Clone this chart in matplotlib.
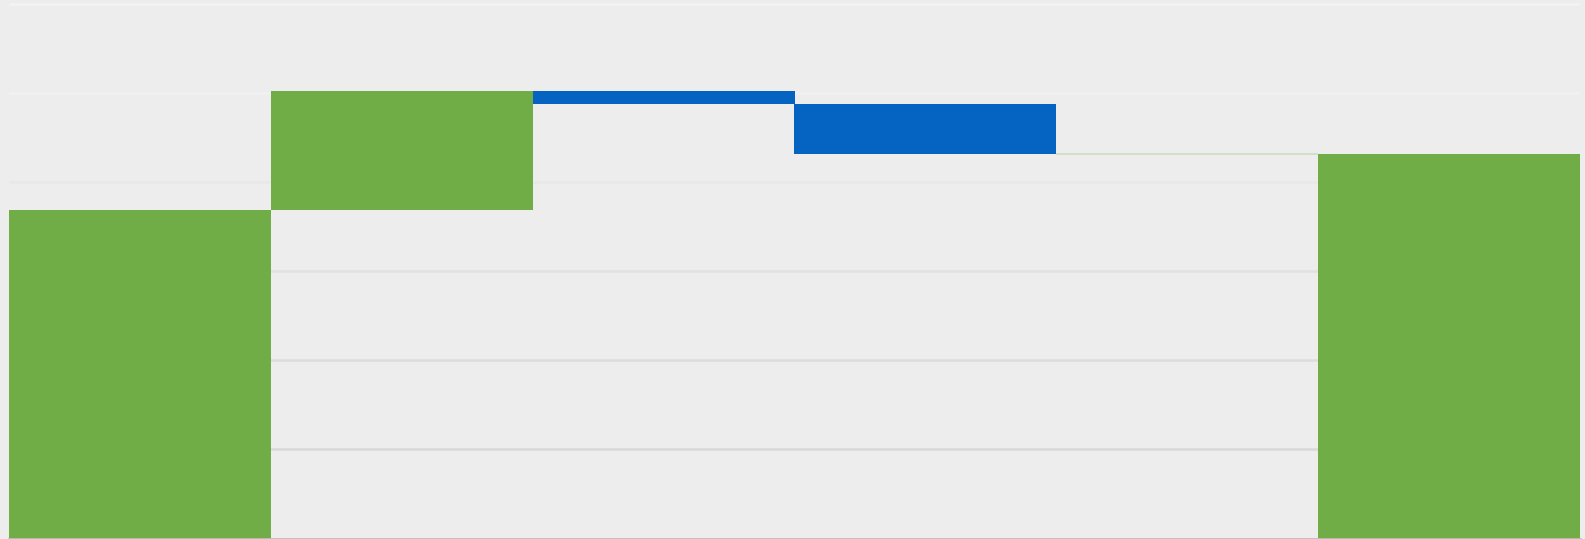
import matplotlib
matplotlib.use("Agg")
import matplotlib.pyplot as plt
import numpy as np

categories = ["Start", "Increase", "Decrease 1", "Decrease 2", "No change", "End"]
changes = [73.8, 26.8, -3.0, -11.2, 0.0, None]  # None = total bar
kinds = ["total", "change", "change", "change", "change", "total"]

grid_values = [20, 40, 60, 80, 100, 120]
grid_colors = ["#d9d9d9", "#dcdcdc", "#e1e1e1", "#e8e8e8", "#f1f1f1", "#f3f3f3"]

green = "#70ad47"
blue = "#0563c1"
bg = "#ededed"

fig = plt.figure(figsize=(15.85, 5.39), dpi=100)
fig.patch.set_facecolor(bg)
ax = fig.add_axes([9 / 1585, 0.5 / 539, 1571 / 1585, 538.5 / 539])
ax.set_facecolor(bg)

x = np.arange(len(categories))
bottoms, heights, colors = [], [], []
running = 0.0
for i, (c, k) in enumerate(zip(changes, kinds)):
    if i == 0:
        bottoms.append(0.0); heights.append(c); colors.append(green)
        running = c
    elif k == "total":
        bottoms.append(0.0); heights.append(running); colors.append(green)
    else:
        if c >= 0:
            bottoms.append(running); heights.append(c); colors.append(green)
        else:
            bottoms.append(running + c); heights.append(-c); colors.append(blue)
        running += c

for yv, gc in zip(grid_values, grid_colors):
    ax.axhline(yv, color=gc, lw=1.8, zorder=0)

for xi, b, h, col in zip(x, bottoms, heights, colors):
    if h == 0:
        ax.hlines(b, xi - 0.5, xi + 0.5, color="#d3dfca", lw=1.5, zorder=2)
    else:
        ax.bar(xi, h, bottom=b, width=1.0, color=col, edgecolor="none", zorder=2)

ax.set_xlim(-0.5, len(categories) - 0.5)
ax.set_ylim(0, 121)
for s in ["top", "right", "left"]:
    ax.spines[s].set_visible(False)
ax.spines["bottom"].set_color("#bdbdbd")
ax.spines["bottom"].set_linewidth(2)
ax.spines["bottom"].set_zorder(3)
ax.set_xticks([])
ax.set_yticks([])

fig.savefig("out.png", dpi=100, facecolor=bg)
